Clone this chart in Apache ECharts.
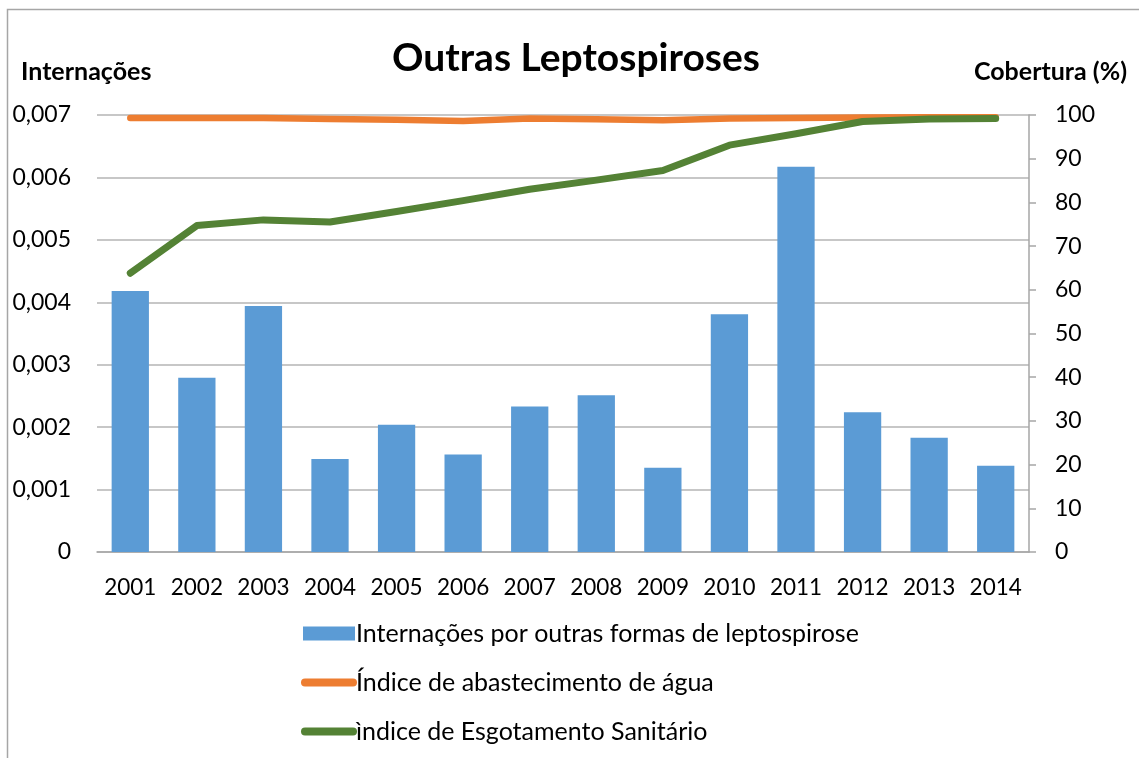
<!DOCTYPE html>
<html lang="pt">
<head>
    <meta charset="UTF-8">
    <title>Outras Leptospiroses</title>
    <script src="https://cdn.jsdelivr.net/npm/echarts@6/dist/echarts.min.js"></script>
    <style>
        html, body { margin: 0; padding: 0; background: #fff; }
    </style>
</head>
<body>

<div id="chart" style="width: 1139px;height: 758px"></div>

<script>
    // dados
    var anos = ['2001', '2002', '2003', '2004', '2005', '2006', '2007', '2008', '2009', '2010', '2011', '2012', '2013', '2014'];
    var internacoes = [0.00418, 0.00279, 0.00394, 0.00149, 0.00204, 0.00156, 0.00233, 0.00251, 0.00135, 0.00381, 0.00617, 0.00224, 0.00183, 0.00138];
    var abastecimento = [99.3, 99.3, 99.3, 99.1, 98.9, 98.6, 99.2, 99.0, 98.8, 99.2, 99.3, 99.4, 99.5, 99.5];
    var esgotamento = [63.8, 74.7, 76.0, 75.5, 77.9, 80.4, 83.0, 85.1, 87.3, 93.1, 95.7, 98.5, 99.1, 99.2];

    var nomes = ['Internações por outras formas de leptospirose', 'Índice de abastecimento de água', 'ìndice de Esgotamento Sanitário'];

    var fonte = 'Lato, "Open Sans", sans-serif';
    // ícone de linha com pontas arredondadas (caixa 56x14)
    var iconeLinha = 'path://M0,0M56,14M4,3L52,3A4,4,0,0,1,52,11L4,11A4,4,0,0,1,4,3Z';

    var myChart = echarts.init(document.getElementById('chart'));

    var option = {
        backgroundColor: '#fff',
        textStyle: { fontFamily: fonte, color: '#000' },
        animation: false,
        title: {
            text: 'Outras Leptospiroses',
            left: 571,
            textAlign: 'center',
            top: 34,
            textStyle: { fontFamily: fonte, fontSize: 39, fontWeight: 'bold', color: '#000' }
        },
        graphic: [
            {
                type: 'rect',
                shape: { x: 7.5, y: 9.5, width: 1200, height: 800 },
                style: { fill: 'none', stroke: '#a6a6a6', lineWidth: 1.5 },
                silent: true
            }
        ],
        legend: {
            orient: 'vertical',
            left: 296,
            top: 616,
            itemWidth: 56,
            itemHeight: 14,
            itemGap: 24,
            itemStyle: { borderWidth: 0 },
            textStyle: { fontFamily: fonte, fontSize: 25, color: '#000', padding: [0, 0, 0, -6] },
            data: [
                { name: nomes[0], icon: 'path://M0,0M56,14M2,0L54,0L54,14L2,14Z' },
                { name: nomes[1], icon: iconeLinha },
                { name: nomes[2], icon: iconeLinha }
            ]
        },
        grid: { left: 97, right: 110, top: 115, bottom: 206 },
        xAxis: {
            type: 'category',
            data: anos,
            axisLine: { lineStyle: { color: '#a6a6a6', width: 1.5 } },
            axisTick: { show: false },
            axisLabel: { interval: 0, fontFamily: fonte, fontSize: 22.5, color: '#000', margin: 24 }
        },
        yAxis: [
            {
                type: 'value',
                name: 'Internações',
                nameLocation: 'end',
                nameGap: 31,
                nameTextStyle: { fontFamily: fonte, fontSize: 25, fontWeight: 'bold', color: '#000', align: 'left', padding: [0, 0, 0, -76] },
                min: 0,
                max: 0.007,
                interval: 0.001,
                axisLine: { show: false },
                axisTick: { show: false },
                splitLine: { lineStyle: { color: '#b4b4b4', width: 1.5 } },
                axisLabel: {
                    fontFamily: fonte, fontSize: 23, color: '#000', margin: 26,
                    formatter: function (v) { return v === 0 ? '0' : v.toFixed(3).replace('.', ','); }
                }
            },
            {
                type: 'value',
                name: 'Cobertura (%)',
                nameLocation: 'end',
                nameGap: 31,
                nameTextStyle: { fontFamily: fonte, fontSize: 25, fontWeight: 'bold', color: '#000', align: 'right', padding: [0, -98, 0, 0] },
                min: 0,
                max: 100,
                interval: 10,
                axisLine: { show: true, lineStyle: { color: '#a6a6a6', width: 1.5 } },
                axisTick: { show: true, length: 7, lineStyle: { color: '#a6a6a6', width: 1.5 } },
                splitLine: { show: false },
                axisLabel: { fontFamily: fonte, fontSize: 23, color: '#000', margin: 26 }
            }
        ],
        series: [
            {
                name: nomes[0],
                type: 'bar',
                yAxisIndex: 0,
                barWidth: '56%',
                itemStyle: { color: '#5b9bd5' },
                data: internacoes
            },
            {
                name: nomes[1],
                type: 'line',
                yAxisIndex: 1,
                symbol: 'none',
                lineStyle: { color: '#ed7d31', width: 6.5, cap: 'round', join: 'round' },
                itemStyle: { color: '#ed7d31' },
                data: abastecimento
            },
            {
                name: nomes[2],
                type: 'line',
                yAxisIndex: 1,
                symbol: 'none',
                lineStyle: { color: '#548235', width: 7, cap: 'round', join: 'round' },
                itemStyle: { color: '#548235' },
                data: esgotamento
            }
        ]
    };

    myChart.setOption(option);
</script>

</body>
</html>
